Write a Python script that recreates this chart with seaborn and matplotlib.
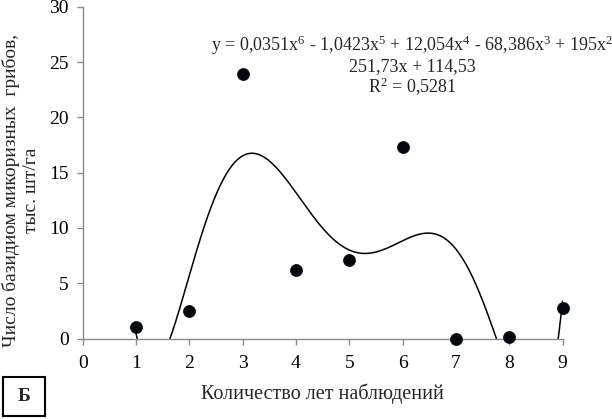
import numpy as np
import pandas as pd
import seaborn as sns
import matplotlib
matplotlib.use("Agg")
import matplotlib.pyplot as plt
from matplotlib.patches import Rectangle

# ---- data ----
years = [1, 2, 3, 4, 5, 6, 7, 8, 9]
counts = [1.0, 2.5, 23.9, 6.2, 7.1, 17.3, 0.0, 0.1, 2.8]
x_ticks = [0, 1, 2, 3, 4, 5, 6, 7, 8, 9]
y_ticks = [0, 5, 10, 15, 20, 25, 30]
eq_lines = [
    "y = 0,0351x$^{6}$ - 1,0423x$^{5}$ + 12,054x$^{4}$ - 68,386x$^{3}$ + 195x$^{2}$",
    "251,73x + 114,53",
    "R$^{2}$ = 0,5281",
]
x_label = "Количество лет наблюдений"
y_label = "Число базидиом микоризных  грибов,\nтыс. шт/га"
panel = "Б"

sns.set_theme(style="white")
plt.rcParams["font.family"] = ["Liberation Serif", "DejaVu Serif"]
plt.rcParams["mathtext.fontset"] = "custom"
plt.rcParams["mathtext.rm"] = "Liberation Serif"
plt.rcParams["mathtext.it"] = "Liberation Serif:italic"

W, H = 612, 419
fig = plt.figure(figsize=(W / 100, H / 100), dpi=100)
ax = fig.add_axes([82.7 / W, 1 - 338.5 / H, (562.5 - 82.7) / W, (338.5 - 7) / H])

df = pd.DataFrame({"year": years, "count": counts})

# polynomial (6th order) trendline fitted from the data
coef = np.polyfit(df["year"], df["count"], 6)
xs = np.linspace(min(years), max(years), 400)
fit = pd.DataFrame({"year": xs, "count": np.polyval(coef, xs)})
sns.lineplot(data=fit, x="year", y="count", ax=ax, color="black", lw=1.1)

sns.scatterplot(data=df, x="year", y="count", ax=ax, s=75, color="#05070f",
                edgecolor="#05070f", linewidth=0.5, zorder=5, clip_on=False)

ax.set_xlim(0, 9)
ax.set_ylim(0, 30)
ax.set_xticks(x_ticks)
ax.set_yticks(y_ticks)
ax.tick_params(axis="both", labelsize=14, colors="#8a8a8a", labelcolor="black",
               length=4, width=1, direction="out", left=True, bottom=True)
ax.tick_params(axis="x", pad=8)
ax.tick_params(axis="y", pad=6)
for s in ["top", "right"]:
    ax.spines[s].set_visible(False)
for s in ["left", "bottom"]:
    ax.spines[s].set_color("#8a8a8a")
    ax.spines[s].set_linewidth(1)
ax.set_xlabel("")
ax.set_ylabel("")
ax.grid(False)

# equation text
ys = [45, 67, 87]
for line, yy in zip(eq_lines, ys):
    fig.text(412 / W, 1 - yy / H, line, ha="center", va="center", fontsize=13)

fig.text(322 / W, 1 - 394 / H, x_label, ha="center", va="center", fontsize=14.5)
fig.text(21 / W, 1 - 190 / H, y_label, ha="center", va="center", rotation=90,
         fontsize=14, multialignment="center", linespacing=1.25)

fig.patches.append(Rectangle((3 / W, 1 - 416 / H), 42 / W, 39 / H, transform=fig.transFigure,
                             fill=False, edgecolor="black", linewidth=1.5))
fig.text(24 / W, 1 - 396 / H, panel, ha="center", va="center", fontsize=14, fontweight="bold")

fig.savefig("out.png", dpi=100)
